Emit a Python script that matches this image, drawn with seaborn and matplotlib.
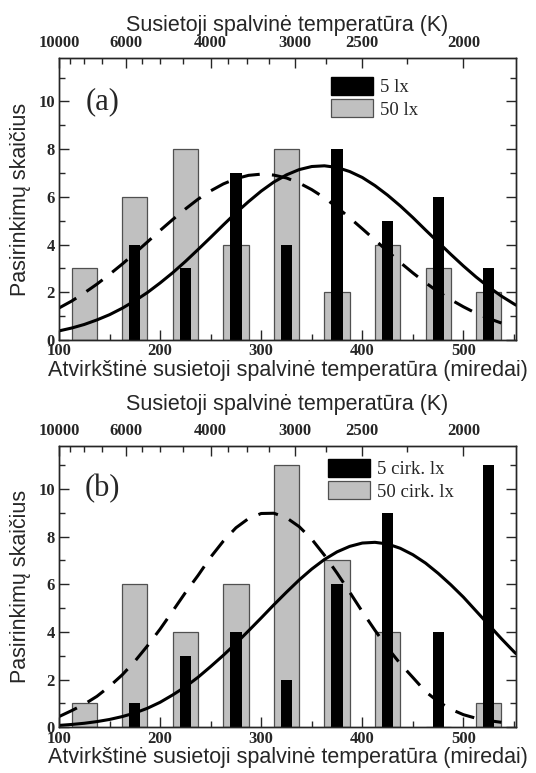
import numpy as np
import pandas as pd
import matplotlib
matplotlib.use("Agg")
import matplotlib.pyplot as plt
import seaborn as sns
from matplotlib.patches import Patch
from matplotlib.ticker import MultipleLocator

# ---------------- data ----------------
bin_centers = [125, 175, 225, 275, 325, 375, 425, 475, 525]

a_50lx = [3, 6, 8, 4, 8, 2, 4, 3, 2]
a_5lx = [0, 4, 3, 7, 4, 8, 5, 6, 3]
b_50lx = [1, 6, 4, 6, 11, 7, 4, 0, 1]
b_5lx = [0, 1, 3, 4, 2, 6, 9, 4, 11]

# fitted curves (x in mireds)
fit_x_solid = [100, 112.5, 125, 137.5, 150, 162.5, 175, 187.5, 200, 212.5,
               225, 237.5, 250, 262.5, 275, 287.5, 300, 312.5, 325, 337.5,
               350, 362.5, 375, 387.5, 400, 412.5, 425, 437.5, 450, 462.5,
               475, 487.5, 500, 512.5, 525, 537.5, 550, 552]
fit_x_dashed = [100, 112.5, 125, 137.5, 150, 162.5, 175, 187.5, 200, 212.5,
                225, 237.5, 250, 262.5, 275, 287.5, 300, 312.5, 325, 337.5,
                350, 362.5, 375, 387.5, 400, 412.5, 425, 437.5, 450, 462.5,
                475, 487.5, 500, 512.5, 525, 537.5]

a_fit_5lx = [0.38, 0.50, 0.65, 0.84, 1.06, 1.33, 1.64, 1.99, 2.39, 2.82,
             3.29, 3.79, 4.30, 4.82, 5.33, 5.80, 6.24, 6.62, 6.92, 7.14,
             7.27, 7.30, 7.23, 7.06, 6.81, 6.47, 6.07, 5.62, 5.13, 4.61,
             4.10, 3.59, 3.10, 2.64, 2.22, 1.84, 1.51, 1.46]
a_fit_50lx = [1.34, 1.63, 1.97, 2.34, 2.75, 3.18, 3.64, 4.11, 4.59, 5.05,
              5.49, 5.90, 6.25, 6.54, 6.76, 6.90, 6.95, 6.91, 6.79, 6.58,
              6.30, 5.96, 5.56, 5.12, 4.66, 4.19, 3.72, 3.25, 2.81, 2.40,
              2.02, 1.69, 1.39, 1.12, 0.90, 0.71]
b_fit_5lx = [0.08, 0.12, 0.17, 0.24, 0.33, 0.45, 0.60, 0.80, 1.05, 1.36,
             1.70, 2.10, 2.55, 3.02, 3.52, 4.05, 4.59, 5.14, 5.67, 6.18,
             6.64, 7.04, 7.36, 7.59, 7.73, 7.76, 7.69, 7.51, 7.24, 6.89,
             6.46, 5.98, 5.46, 4.88, 4.30, 3.72, 3.17, 3.09]
b_fit_50lx = [0.45, 0.70, 0.97, 1.30, 1.72, 2.20, 2.77, 3.42, 4.12, 4.88,
              5.65, 6.37, 7.14, 7.81, 8.37, 8.76, 8.97, 8.98, 8.79, 8.42,
              7.89, 7.22, 6.47, 5.67, 4.85, 4.07, 3.33, 2.67, 2.09, 1.50,
              1.08, 0.76, 0.53, 0.38, 0.28, 0.21]

kelvin_major = [10000, 6000, 4000, 3000, 2500, 2000]
kelvin_minor = [9000, 8000, 7000, 5500, 5000, 4500, 3750, 3500, 3250, 2750, 2250]
x_ticks = [100, 200, 300, 400, 500]
y_ticks = [0, 2, 4, 6, 8, 10]

legend_a = ["5 lx", "50 lx"]
legend_b = ["5 cirk. lx", "50 cirk. lx"]

xlabel_bottom = "Atvirkštinė susietoji spalvinė temperatūra (miredai)"
xlabel_top = "Susietoji spalvinė temperatūra (K)"
ylabel = "Pasirinkimų skaičius"

# ---------------- style ----------------
sns.set_style("ticks")
plt.rcParams["font.family"] = ["Liberation Sans", "DejaVu Sans"]
plt.rcParams["axes.linewidth"] = 1.0

GRAY = "#c0c0c0"
EDGE = "#505050"
SERIF = ["Liberation Serif", "DejaVu Serif"]
tick_font = dict(family=SERIF, weight="bold", size=12)

fig = plt.figure(figsize=(5.36, 7.73), dpi=100)
ax_a = fig.add_axes([0.1101, 0.5602, 0.8526, 0.3642])
ax_b = fig.add_axes([0.1101, 0.0591, 0.8526, 0.3639])


def draw_panel(ax, gray, black, fit_solid, fit_dashed, labels, panel,
               leg_anchor, top_pad):
    df = pd.DataFrame({"x": bin_centers, "gray": gray, "black": black})
    sns.barplot(data=df, x="x", y="gray", native_scale=True, width=0.5,
                color=GRAY, saturation=1, edgecolor=EDGE, linewidth=0.9,
                errorbar=None, ax=ax, zorder=2)
    sns.barplot(data=df, x="x", y="black", native_scale=True, width=0.22,
                color="black", saturation=1, linewidth=0,
                errorbar=None, ax=ax, zorder=3)
    sns.lineplot(x=fit_x_solid, y=fit_solid, color="black", linewidth=2.2,
                 estimator=None, ax=ax, zorder=4)
    sns.lineplot(x=fit_x_dashed, y=fit_dashed, color="black", linewidth=2.2,
                 linestyle=(0, (6.5, 4)), estimator=None, ax=ax, zorder=4)

    ax.set_xlim(100, 552)
    ax.set_ylim(0, 11.8)
    ax.set_xticks(x_ticks)
    ax.set_xticklabels([str(v) for v in x_ticks], **tick_font)
    ax.xaxis.set_minor_locator(MultipleLocator(50))
    ax.set_yticks(y_ticks)
    ax.set_yticklabels([str(v) for v in y_ticks], **tick_font)
    ax.yaxis.set_minor_locator(MultipleLocator(1))
    ax.tick_params(which="both", direction="in", top=False, right=True, width=1)
    ax.tick_params(which="major", length=7)
    ax.tick_params(which="minor", length=4)
    ax.tick_params(axis="x", which="major", pad=2.5)
    ax.tick_params(axis="y", which="major", pad=3)

    ax.set_xlabel(xlabel_bottom, fontsize=15.5, labelpad=0.5)
    ax.set_ylabel(ylabel, fontsize=15.5, labelpad=5)

    axt = ax.twiny()
    axt.set_xlim(ax.get_xlim())
    axt.set_xticks([1e6 / t for t in kelvin_major])
    axt.set_xticklabels([str(t) for t in kelvin_major], **tick_font)
    axt.set_xticks([1e6 / t for t in kelvin_minor], minor=True)
    axt.tick_params(which="both", direction="in", width=1)
    axt.tick_params(which="major", length=7, pad=5)
    axt.tick_params(which="minor", length=4)
    axt.set_xlabel(xlabel_top, fontsize=15.5, labelpad=top_pad)

    ax.text(143, 10.0, panel, ha="center", va="center",
            fontfamily=SERIF, fontsize=22)

    handles = [Patch(facecolor="black", edgecolor="black"),
               Patch(facecolor=GRAY, edgecolor=EDGE, linewidth=0.9)]
    ax.legend(handles, labels, loc="upper left", bbox_to_anchor=leg_anchor,
              frameon=False, prop=dict(family=SERIF, size=13.5),
              handlelength=2.25, handleheight=1.1, handletextpad=0.35,
              labelspacing=0.15, borderpad=0, borderaxespad=0)


draw_panel(ax_a, a_50lx, a_5lx, a_fit_5lx, a_fit_50lx, legend_a, "(a)",
           (0.595, 0.934), 3.5)
draw_panel(ax_b, b_50lx, b_5lx, b_fit_5lx, b_fit_50lx, legend_b, "(b)",
           (0.589, 0.954), 9.5)

fig.savefig("out.png", dpi=100)
